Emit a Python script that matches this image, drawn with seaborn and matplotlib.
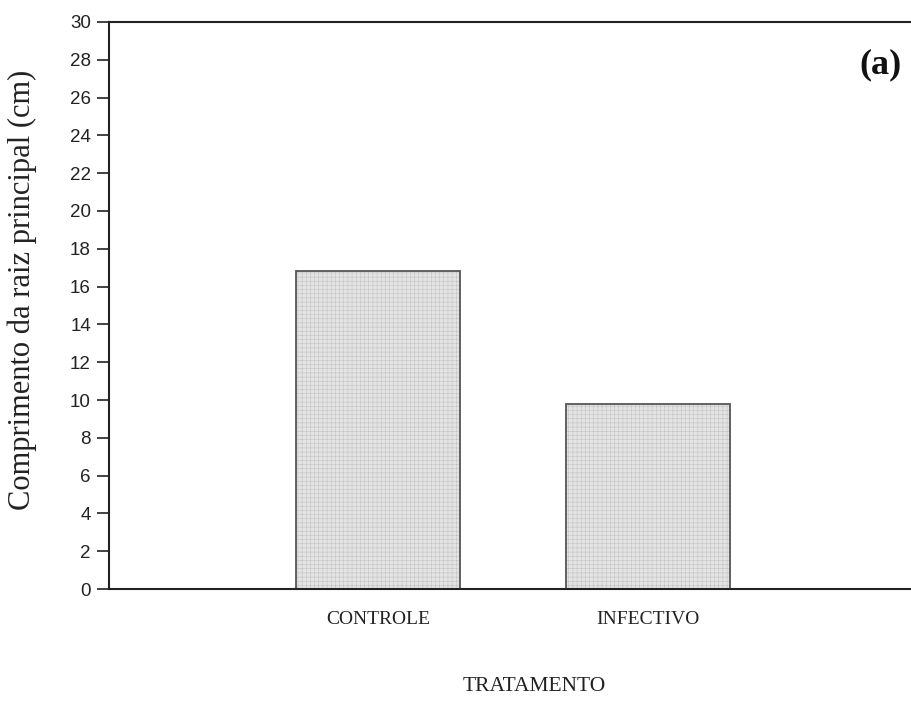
import matplotlib
matplotlib.use("Agg")
import matplotlib.pyplot as plt
import seaborn as sns
import pandas as pd

# Main root length per treatment
tratamentos = ["CONTROLE", "INFECTIVO"]
comprimento = [16.8, 9.8]
y_ticks = list(range(0, 31, 2))

df = pd.DataFrame({"tratamento": tratamentos, "comprimento": comprimento})

sns.set_style("ticks")
plt.rcParams["font.family"] = ["Liberation Sans", "DejaVu Sans"]
plt.rcParams["hatch.linewidth"] = 0.4

serif = ["Liberation Serif", "DejaVu Serif"]

fig = plt.figure(figsize=(9.12, 7.08), dpi=100)
ax = fig.add_axes([0.1195, 0.168, 0.886, 0.801])

# light textured fill
sns.barplot(data=df, x="tratamento", y="comprimento", ax=ax,
            color="#e4e4e4", width=0.61, edgecolor="#c2c2c2",
            linewidth=0, saturation=1, hatch="++++")
# outline on top
sns.barplot(data=df, x="tratamento", y="comprimento", ax=ax,
            fill=False, width=0.61, edgecolor="#555555",
            linewidth=1.3, saturation=1)

ax.set_xlim(-1.0, 2.0)
ax.set_ylim(0, 30)
ax.set_yticks(y_ticks)
ax.tick_params(axis="y", direction="out", length=9, width=1.2,
               labelsize=13.5, colors="#222222", pad=4)
ax.tick_params(axis="x", length=0, pad=16)
for lab in ax.get_xticklabels():
    lab.set_fontfamily(serif)
    lab.set_fontsize(14)
    lab.set_color("#222222")

for side in ["left", "top", "bottom"]:
    ax.spines[side].set_visible(True)
    ax.spines[side].set_linewidth(1.5)
    ax.spines[side].set_color("#222222")
ax.spines["right"].set_visible(False)

ax.set_ylabel("Comprimento da raiz principal (cm)", family=serif,
              fontsize=22, color="#222222")
ax.yaxis.set_label_coords(-0.089, 0.527)
ax.set_xlabel("TRATAMENTO", family=serif, fontsize=15.5, color="#222222")
ax.xaxis.set_label_coords(0.526, -0.155)

ax.text(0.955, 0.924, "(a)", transform=ax.transAxes, family=serif,
        fontsize=26, fontweight="bold", ha="center", va="center",
        color="#111111")

fig.savefig("out.png", dpi=100)
